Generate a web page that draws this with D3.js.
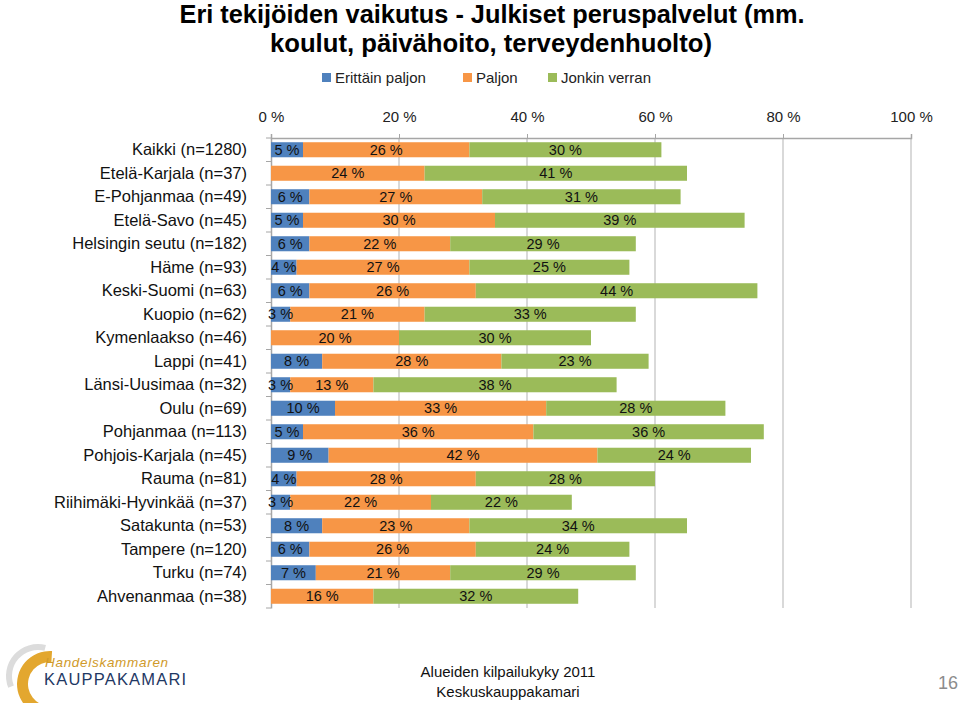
<!DOCTYPE html>
<html>
<head>
<meta charset="utf-8">
<script src="https://cdn.jsdelivr.net/npm/d3@7"></script>
<style>
  html, body { margin: 0; padding: 0; background: #fff; }
  svg { display: block; font-family: "Liberation Sans", Arial, sans-serif; }
</style>
</head>
<body>
<svg id="chart" width="960" height="703"></svg>
<script>
// ---- Data ----
const categories = [
  "Kaikki (n=1280)", "Etelä-Karjala (n=37)", "E-Pohjanmaa (n=49)", "Etelä-Savo (n=45)",
  "Helsingin seutu (n=182)", "Häme (n=93)", "Keski-Suomi (n=63)", "Kuopio (n=62)",
  "Kymenlaakso (n=46)", "Lappi (n=41)", "Länsi-Uusimaa (n=32)", "Oulu (n=69)",
  "Pohjanmaa (n=113)", "Pohjois-Karjala (n=45)", "Rauma (n=81)", "Riihimäki-Hyvinkää (n=37)",
  "Satakunta (n=53)", "Tampere (n=120)", "Turku (n=74)", "Ahvenanmaa (n=38)"
];
const erittainPaljon = [5, 0, 6, 5, 6, 4, 6, 3, 0, 8, 3, 10, 5, 9, 4, 3, 8, 6, 7, 0];
const paljon         = [26, 24, 27, 30, 22, 27, 26, 21, 20, 28, 13, 33, 36, 42, 28, 22, 23, 26, 21, 16];
const jonkinVerran   = [30, 41, 31, 39, 29, 25, 44, 33, 30, 23, 38, 28, 36, 24, 28, 22, 34, 24, 29, 32];
const seriesNames = ["Erittäin paljon", "Paljon", "Jonkin verran"];
const tickValues = [0, 20, 40, 60, 80, 100];
const tickLabels = ["0 %", "20 %", "40 %", "60 %", "80 %", "100 %"];
const colors = ["#4F81BD", "#F79646", "#9BBB59"];

// ---- Layout ----
const svg = d3.select("#chart");
const plotLeft = 271, plotRight = 911, plotTop = 138, plotBottom = 608;

const x = d3.scaleLinear().domain([0, 100]).range([plotLeft, plotRight]);
const y = d3.scaleBand().domain(categories).range([plotTop, plotBottom])
  .paddingInner(0.36).paddingOuter(0.18);

// Title
const title = svg.append("g").attr("font-weight", "bold").attr("fill", "#000")
  .attr("text-anchor", "middle").attr("font-size", 25);
title.append("text").attr("x", 492).attr("y", 23)
  .attr("textLength", 625).attr("lengthAdjust", "spacingAndGlyphs")
  .text("Eri tekijöiden vaikutus - Julkiset peruspalvelut (mm.");
title.append("text").attr("x", 491).attr("y", 52)
  .attr("textLength", 442).attr("lengthAdjust", "spacingAndGlyphs")
  .text("koulut, päivähoito, terveydenhuolto)");

// Legend
const legendX = [322, 463, 548];
const legend = svg.append("g");
seriesNames.forEach((name, i) => {
  legend.append("rect").attr("x", legendX[i]).attr("y", 73).attr("width", 9).attr("height", 9)
    .attr("fill", colors[i]);
  legend.append("text").attr("x", legendX[i] + 13).attr("y", 83)
    .attr("font-size", 15).attr("fill", "#222").text(name);
});

// Gridlines
svg.append("g").selectAll("line").data(tickValues.slice(1)).join("line")
  .attr("x1", d => x(d)).attr("x2", d => x(d))
  .attr("y1", plotTop).attr("y2", plotBottom)
  .attr("stroke", "#B3B3B3").attr("stroke-width", 1);

// Top axis
const xAxis = d3.axisTop(x).tickValues(tickValues)
  .tickFormat((d, i) => tickLabels[i]).tickSize(4).tickPadding(12);
const gx = svg.append("g").attr("transform", `translate(0,${plotTop})`).call(xAxis);
gx.select(".domain").attr("stroke", "#A6A6A6").attr("stroke-width", 1.5);
gx.selectAll(".tick line").attr("stroke", "#A6A6A6");
gx.selectAll(".tick text").attr("font-size", 15).attr("fill", "#222")
  .attr("font-family", "'Liberation Sans', Arial, sans-serif");

// Left axis
const yAxis = d3.axisLeft(y).tickSize(0).tickPadding(24);
const gy = svg.append("g").attr("transform", `translate(${plotLeft},0)`).call(yAxis);
gy.select(".domain").attr("stroke", "#A6A6A6").attr("stroke-width", 1.5);
gy.selectAll(".tick text").attr("font-size", 16.5).attr("fill", "#111")
  .attr("font-family", "'Liberation Sans', Arial, sans-serif");
// row-boundary tick marks
const boundaries = d3.range(categories.length + 1).map(i => plotTop + i * y.step());
svg.append("g").selectAll("line").data(boundaries).join("line")
  .attr("x1", plotLeft - 5).attr("x2", plotLeft)
  .attr("y1", d => d).attr("y2", d => d)
  .attr("stroke", "#A6A6A6");

// Stacked bars
const rows = categories.map((c, i) => ({ cat: c, vals: [erittainPaljon[i], paljon[i], jonkinVerran[i]] }));
const segs = [];
rows.forEach(r => {
  let acc = 0;
  r.vals.forEach((v, k) => {
    segs.push({ cat: r.cat, k, v, x0: acc, x1: acc + v });
    acc += v;
  });
});
svg.append("g").selectAll("rect").data(segs.filter(s => s.v > 0)).join("rect")
  .attr("x", d => x(d.x0)).attr("width", d => x(d.x1) - x(d.x0))
  .attr("y", d => y(d.cat)).attr("height", y.bandwidth())
  .attr("fill", d => colors[d.k]);

svg.append("g").selectAll("text").data(segs.filter(s => s.v > 0)).join("text")
  .attr("x", d => (x(d.x0) + x(d.x1)) / 2)
  .attr("y", d => y(d.cat) + y.bandwidth() / 2 + 5)
  .attr("text-anchor", "middle").attr("font-size", 14.5).attr("fill", "#111")
  .text(d => `${d.v} %`);

// Footer
const footer = svg.append("g").attr("font-size", 15).attr("fill", "#111").attr("text-anchor", "middle");
footer.append("text").attr("x", 508).attr("y", 677).text("Alueiden kilpailukyky 2011");
footer.append("text").attr("x", 508).attr("y", 697).text("Keskuskauppakamari");
svg.append("text").attr("x", 958).attr("y", 689).attr("text-anchor", "end")
  .attr("font-size", 18).attr("fill", "#8C8C8C").text("16");

// Logo (decorative)
const logo = svg.append("g");
logo.append("path")
  .attr("transform", "translate(38,676)")
  .attr("d", d3.arc().innerRadius(26).outerRadius(32).startAngle(-Math.PI * 0.62).endAngle(Math.PI * 0.08)())
  .attr("fill", "#DCDCDC");
logo.append("path")
  .attr("transform", "translate(50,684)")
  .attr("d", d3.arc().innerRadius(22).outerRadius(33).startAngle(-Math.PI * 1.15).endAngle(Math.PI * 0.02)())
  .attr("fill", "#E3A72F");
logo.append("text").attr("x", 45).attr("y", 667).attr("font-size", 13.5).attr("font-style", "italic")
  .attr("fill", "#D09A2A").attr("letter-spacing", 0.7).text("Handelskammaren");
logo.append("text").attr("x", 44).attr("y", 685).attr("font-size", 16.5)
  .attr("fill", "#1F3864").attr("letter-spacing", 1.2).text("KAUPPAKAMARI");
</script>
</body>
</html>
